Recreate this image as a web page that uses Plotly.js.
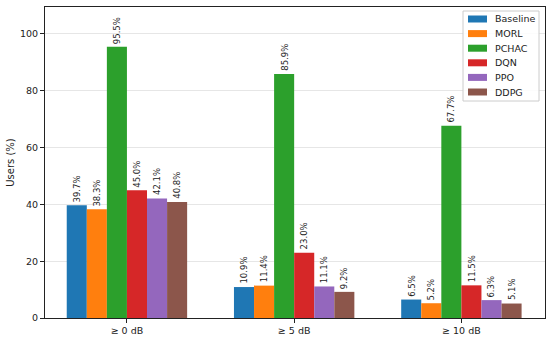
<!DOCTYPE html>
<html>
<head>
<meta charset="utf-8">
<script src="https://cdn.plot.ly/plotly-3.0.1.min.js"></script>
<style>html,body{margin:0;padding:0;background:#fff;}#chart{width:550px;height:340px;}</style>
</head>
<body>
<div id="chart"></div>
<script>
const categories = ["≥ 0 dB", "≥ 5 dB", "≥ 10 dB"];
const seriesNames = ["Baseline", "MORL", "PCHAC", "DQN", "PPO", "DDPG"];
const baseline = [39.7, 10.9, 6.5];
const morl = [38.3, 11.4, 5.2];
const pchac = [95.5, 85.9, 67.7];
const dqn = [45.0, 23.0, 11.5];
const ppo = [42.1, 11.1, 6.3];
const ddpg = [40.8, 9.2, 5.1];
const yTicks = [0, 20, 40, 60, 80, 100];

const allValues = [baseline, morl, pchac, dqn, ppo, ddpg];
const colors = ["#1f77b4", "#ff7f0e", "#2ca02c", "#d62728", "#9467bd", "#8c564b"];
const font = "DejaVu Sans, sans-serif";
const bargap = 0.28;
const nSeries = allValues.length;
const barW = (1 - bargap) / nSeries;

// plot area geometry (pixels)
const W = 550, H = 340;
const M = {l: 45, r: 5, t: 7, b: 22};
const plotW = W - M.l - M.r, plotH = H - M.t - M.b;
const px = x => (x - M.l) / plotW;
const py = y => (H - M.b - y) / plotH;

const traces = allValues.map((vals, i) => ({
  type: "bar",
  name: seriesNames[i],
  x: categories,
  y: vals,
  marker: {color: colors[i]},
  showlegend: false,
  hoverinfo: "skip"
}));

const annotations = [];
allValues.forEach((vals, i) => {
  vals.forEach((v, j) => {
    annotations.push({
      x: j + (i - (nSeries - 1) / 2) * barW,
      y: v,
      xref: "x", yref: "y",
      text: v.toFixed(1) + "%",
      textangle: -90,
      showarrow: false,
      xanchor: "center", yanchor: "bottom",
      yshift: 1,
      font: {family: font, size: 8.5, color: "#222"}
    });
  });
});

// custom legend (matplotlib-like)
const shapes = [{
  type: "rect", xref: "paper", yref: "paper",
  x0: px(463), x1: px(539), y0: py(101), y1: py(11),
  line: {color: "#cccccc", width: 1}, fillcolor: "rgba(255,255,255,0.85)", layer: "above"
}];
seriesNames.forEach((name, i) => {
  const cy = 19 + i * 14.6;
  shapes.push({
    type: "rect", xref: "paper", yref: "paper",
    x0: px(468), x1: px(487), y0: py(cy + 3.5), y1: py(cy - 3.5),
    line: {width: 0}, fillcolor: colors[i], layer: "above"
  });
  annotations.push({
    xref: "paper", yref: "paper",
    x: px(493), y: py(cy),
    xanchor: "left", yanchor: "middle",
    text: name, showarrow: false,
    font: {family: font, size: 9.5, color: "#222"}
  });
});

const layout = {
  width: W, height: H,
  margin: M,
  paper_bgcolor: "#fff", plot_bgcolor: "#fff",
  barmode: "group",
  bargap: bargap,
  bargroupgap: 0,
  font: {family: font, size: 9.5, color: "#222"},
  annotations: annotations,
  shapes: shapes,
  showlegend: false,
  xaxis: {
    type: "category",
    range: [-0.49, 2.5],
    showline: true, linecolor: "#222", linewidth: 1, mirror: true,
    ticks: "outside", ticklen: 4, tickcolor: "#222",
    showgrid: false,
    tickfont: {family: font, size: 9.5, color: "#222"}
  },
  yaxis: {
    range: [0, 109.5],
    tickvals: yTicks,
    showline: true, linecolor: "#222", linewidth: 1, mirror: true,
    ticks: "outside", ticklen: 4, tickcolor: "#222",
    showgrid: true, gridcolor: "#e6e6e6", gridwidth: 1,
    zeroline: false,
    tickfont: {family: font, size: 9.5, color: "#222"},
    title: {text: "Users (%)", font: {family: font, size: 10, color: "#222"}, standoff: 3}
  }
};

Plotly.newPlot("chart", traces, layout, {displayModeBar: false, staticPlot: true});
</script>
</body>
</html>
